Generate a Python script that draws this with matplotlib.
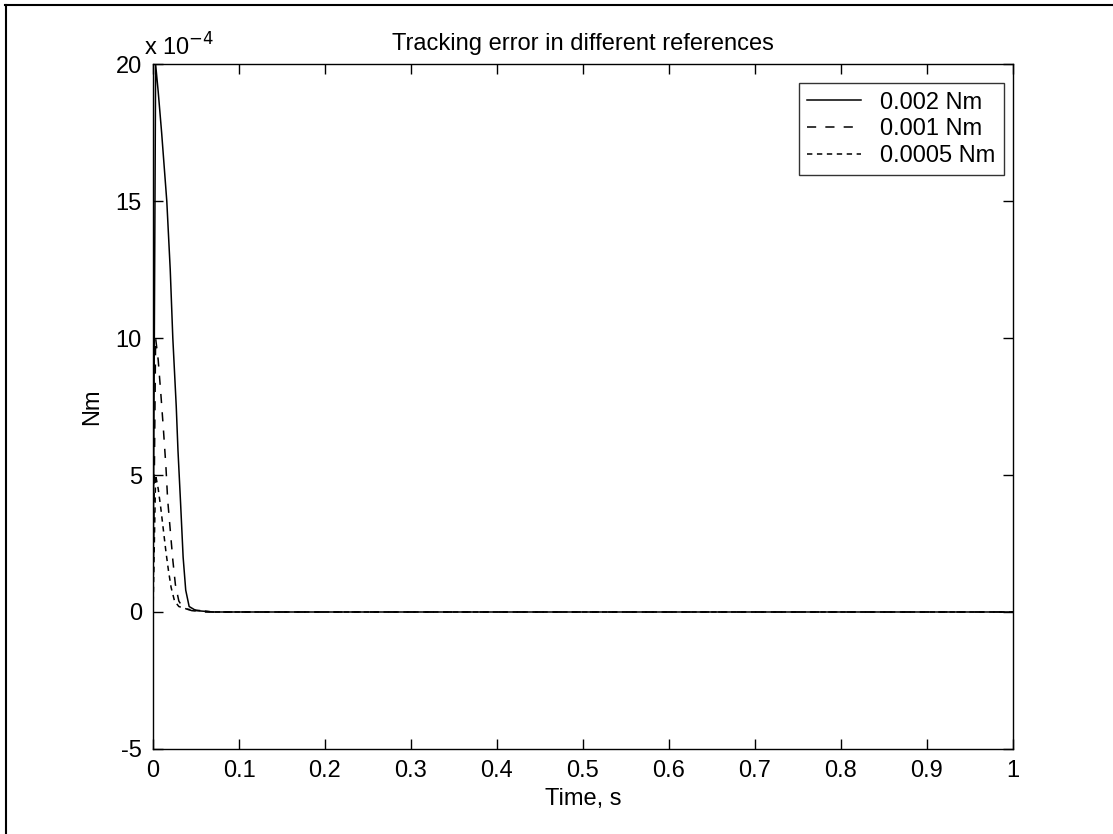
import numpy as np
import matplotlib
matplotlib.use("Agg")
import matplotlib.pyplot as plt
from matplotlib.lines import Line2D

plt.rcParams['font.family'] = ['Liberation Sans Narrow', 'Liberation Sans', 'DejaVu Sans']
plt.rcParams['axes.unicode_minus'] = False

# tracking error, values in units of 1e-4 Nm
t_002 = [0, 0.003, 0.006, 0.010, 0.016, 0.020, 0.023, 0.027, 0.029, 0.032, 0.035, 0.038, 0.042, 0.05, 0.07, 1.0]
e_002 = [0, 20.0, 19.0, 17.5, 15.0, 12.5, 10.0, 7.5, 5.9, 4.0, 2.0, 0.8, 0.2, 0.05, 0.0, 0.0]

t_001 = [0, 0.003, 0.006, 0.009, 0.012, 0.015, 0.017, 0.020, 0.023, 0.026, 0.030, 0.035, 0.045, 0.06, 1.0]
e_001 = [0, 10.0, 9.2, 8.0, 6.7, 5.3, 4.1, 3.0, 1.9, 1.0, 0.4, 0.15, 0.05, 0.0, 0.0]

t_0005 = [0, 0.003, 0.006, 0.009, 0.012, 0.015, 0.018, 0.021, 0.025, 0.030, 0.040, 0.055, 0.07, 1.0]
e_0005 = [0, 5.0, 4.5, 3.8, 3.0, 2.2, 1.5, 0.9, 0.4, 0.2, 0.1, 0.05, 0.0, 0.0]

labels = ['0.002 Nm', '0.001 Nm', '0.0005 Nm']
xticks = np.arange(0, 1.01, 0.1)
xticklabels = ['0', '0.1', '0.2', '0.3', '0.4', '0.5', '0.6', '0.7', '0.8', '0.9', '1']
yticks = [-5, 0, 5, 10, 15, 20]

fig = plt.figure(figsize=(11.13, 8.34), dpi=100)
ax = fig.add_axes([0.1375, 0.102, 0.7725, 0.821])

ax.plot(t_002, e_002, color='black', lw=1.1, label=labels[0])
ax.plot(t_001, e_001, color='black', lw=1.1, dashes=(6, 6), label=labels[1])
ax.plot(t_0005, e_0005, color='black', lw=1.1, dashes=(3.5, 3), label=labels[2])

ax.set_xlim(0, 1)
ax.set_ylim(-5, 20)
ax.set_xticks(xticks)
ax.set_xticklabels(xticklabels)
ax.set_yticks(yticks)
ax.tick_params(direction='in', length=7, width=1, top=True, right=True, labelsize=17, pad=8)
for s in ax.spines.values():
    s.set_linewidth(1)

ax.set_title('Tracking error in different references', fontsize=17, pad=10)
ax.set_xlabel('Time, s', fontsize=17, labelpad=4)
ax.set_ylabel('Nm', fontsize=17, labelpad=9)
ax.text(-0.01, 1.005, r'x 10$^{-4}$', transform=ax.transAxes, fontsize=17, ha='left', va='bottom')

leg = ax.legend(loc='upper right', bbox_to_anchor=(0.9895, 0.972), fontsize=17, frameon=True,
                fancybox=False, edgecolor='black', handlelength=2.3, handletextpad=0.8,
                borderpad=0.35, labelspacing=0.2, borderaxespad=0.0)
leg.get_frame().set_linewidth(1)

# outer frame of the scanned figure
fig.add_artist(Line2D([5 / 1113, 1], [1 - 5 / 834, 1 - 5 / 834], transform=fig.transFigure, color='black', lw=1.5))
fig.add_artist(Line2D([6 / 1113, 6 / 1113], [0, 1 - 5 / 834], transform=fig.transFigure, color='black', lw=1.5))

fig.savefig('out.png', dpi=100)
